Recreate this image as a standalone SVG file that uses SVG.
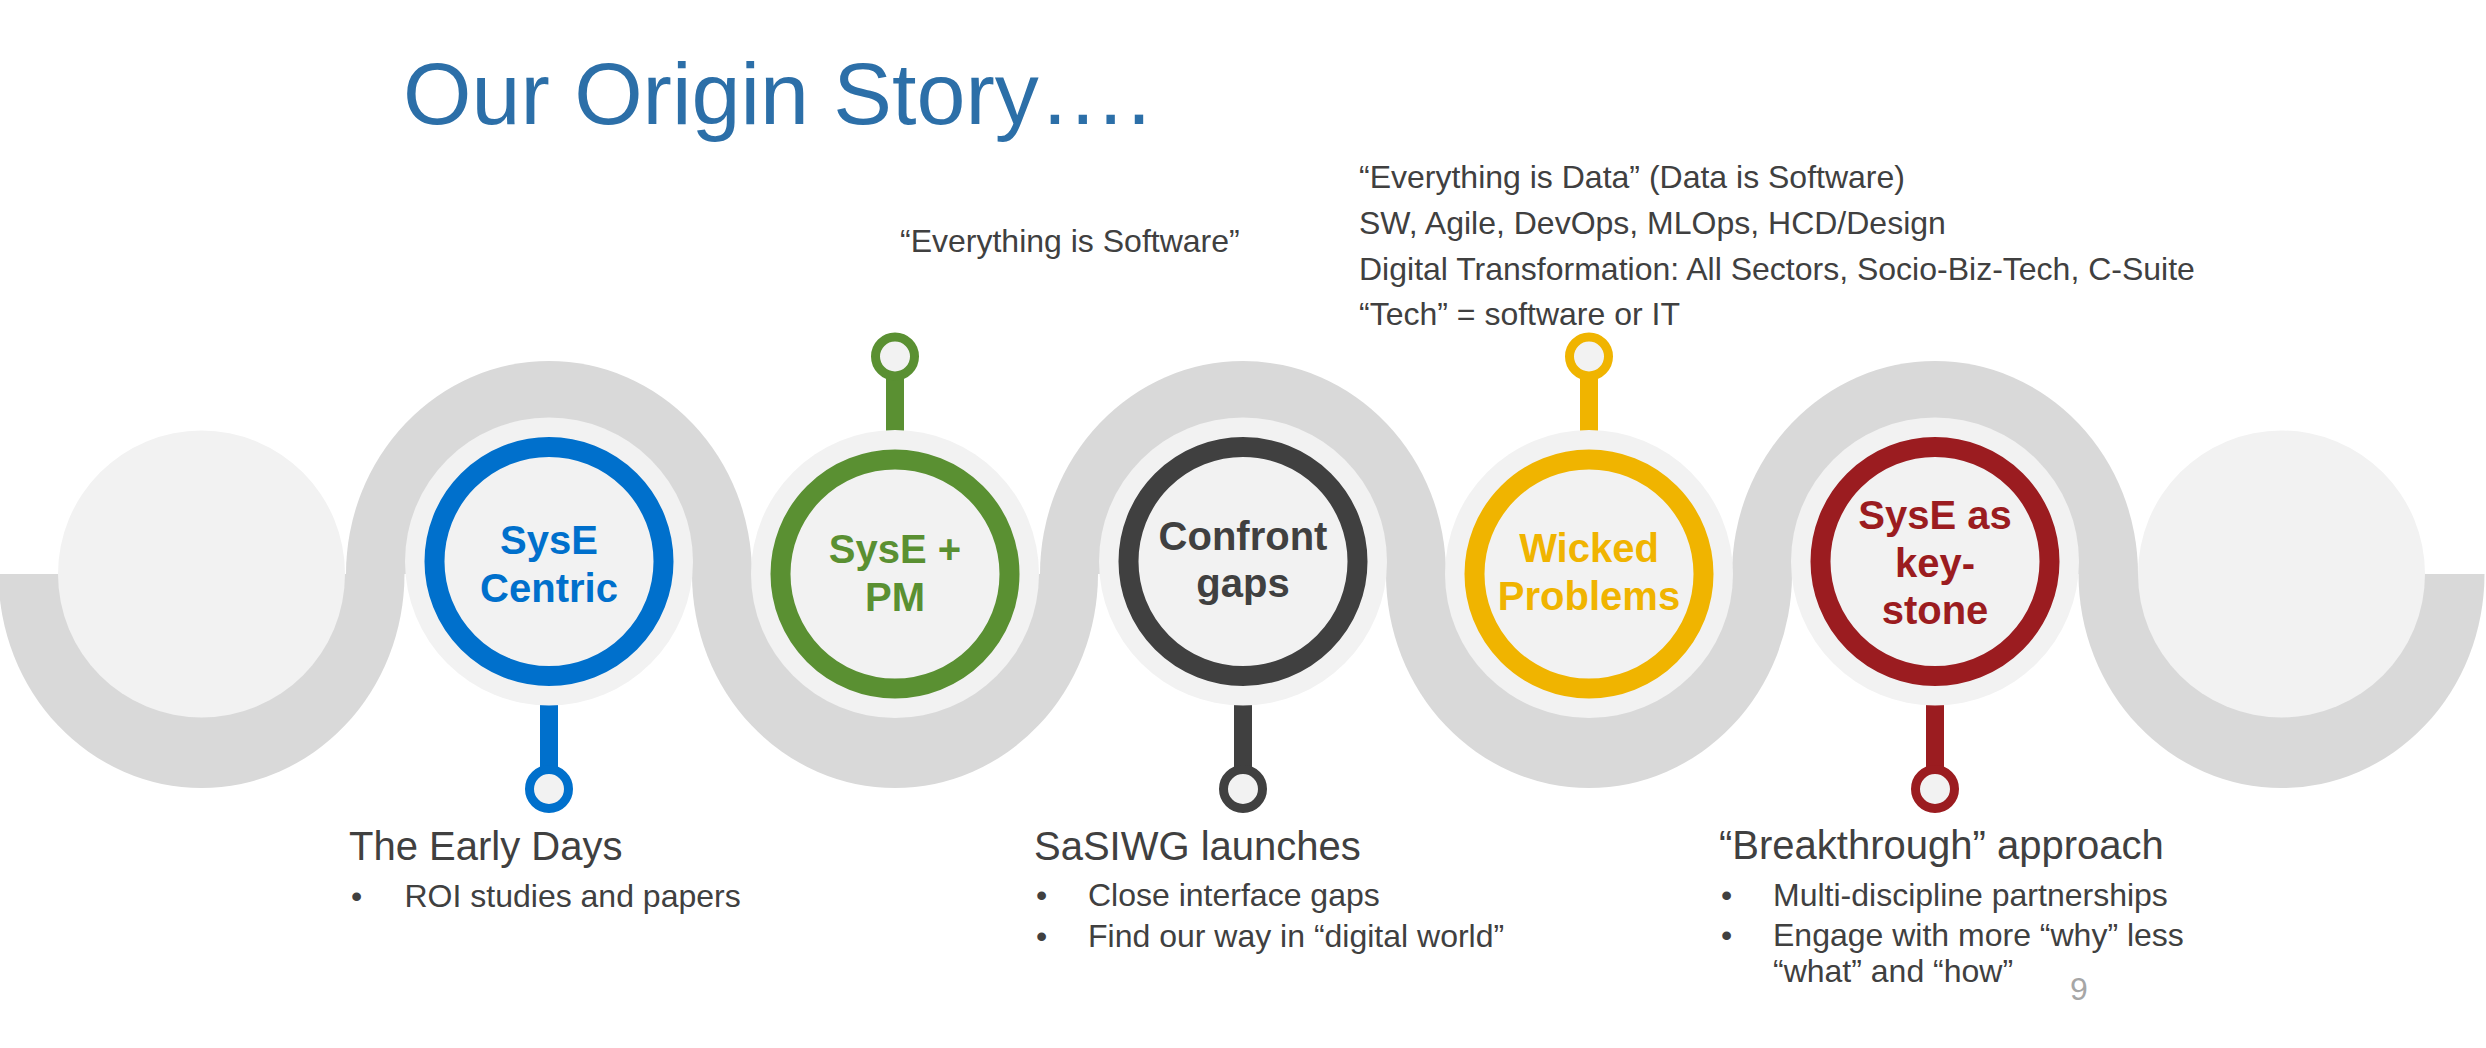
<svg xmlns="http://www.w3.org/2000/svg" width="2486" height="1048" viewBox="0 0 2486 1048">
  <style>
    .band { fill: #D9D9D9; }
    .halo { fill: #F2F2F2; }
    .ring { fill: none; stroke-width: 20; }
    .stem { stroke-width: 18; }
    .pin { stroke-width: 9; }
    .ntext { font-family: "Liberation Sans", Arial, sans-serif; font-weight: bold; font-size: 40px; text-anchor: middle; }
    .body { font-family: "Liberation Sans", Arial, sans-serif; fill: #404040; font-size: 32px; }
    .head { font-family: "Liberation Sans", Arial, sans-serif; fill: #404040; font-size: 40px; }
    .title { font-family: "Liberation Sans", Arial, sans-serif; fill: #2C6FA8; font-size: 88px; }
    .blue { stroke: #0070CC; }
    .green { stroke: #5A9032; }
    .dark { stroke: #404040; }
    .yellow { stroke: #F0B400; }
    .red { stroke: #9B1C20; }
    .pin.blue, .pin.green, .pin.dark, .pin.yellow, .pin.red { fill: #F2F2F2; }
    .ring.blue, .ring.green, .ring.dark, .ring.yellow, .ring.red { fill: none; }
    text.blue { fill: #0070CC; stroke: none; }
    text.green { fill: #5A9032; stroke: none; }
    text.dark { fill: #404040; stroke: none; }
    text.yellow { fill: #F0B400; stroke: none; }
    text.red { fill: #9B1C20; stroke: none; }
  </style>
  <rect width="2486" height="1048" fill="#FFFFFF"/>

  <g id="ribbon">
    <path class="band" d="M-1.5,574 A203,214 0 0 0 404.5,574 Z"/>
    <path class="band" d="M346,574 A203,213 0 0 1 752,574 Z"/>
    <path class="band" d="M692,574 A203,214 0 0 0 1098,574 Z"/>
    <path class="band" d="M1040,574 A203,213 0 0 1 1446,574 Z"/>
    <path class="band" d="M1386,574 A203,214 0 0 0 1792,574 Z"/>
    <path class="band" d="M1732,574 A203,213 0 0 1 2138,574 Z"/>
    <path class="band" d="M2078.5,574 A203,214 0 0 0 2484.5,574 Z"/>
    <circle class="halo" cx="201.5" cy="574" r="143.5"/>
    <circle class="halo" cx="2281.5" cy="574" r="143.5"/>
  </g>

  <g id="connectors">
    <line class="stem blue" x1="549" y1="660" x2="549" y2="789"/>
    <line class="stem green" x1="895" y1="470" x2="895" y2="356.5"/>
    <line class="stem dark" x1="1243" y1="660" x2="1243" y2="789"/>
    <line class="stem yellow" x1="1589" y1="470" x2="1589" y2="356.5"/>
    <line class="stem red" x1="1935" y1="660" x2="1935" y2="789"/>
  </g>

  <g id="node-syse-centric">
    <circle class="halo" cx="549" cy="561.5" r="144"/>
    <circle class="ring blue" cx="549" cy="561.5" r="114.5"/>
    <circle class="pin blue" cx="549" cy="789" r="19.5"/>
    <text class="ntext blue" x="549" y="554">SysE</text>
    <text class="ntext blue" x="549" y="602">Centric</text>
  </g>

  <g id="node-syse-pm">
    <circle class="halo" cx="895" cy="574" r="144"/>
    <circle class="ring green" cx="895" cy="574" r="114.5"/>
    <circle class="pin green" cx="895" cy="356.5" r="19.5"/>
    <text class="ntext green" x="895" y="563">SysE +</text>
    <text class="ntext green" x="895" y="611">PM</text>
  </g>

  <g id="node-confront-gaps">
    <circle class="halo" cx="1243" cy="561.5" r="144"/>
    <circle class="ring dark" cx="1243" cy="561.5" r="114.5"/>
    <circle class="pin dark" cx="1243" cy="789" r="19.5"/>
    <text class="ntext dark" x="1243" y="550">Confront</text>
    <text class="ntext dark" x="1243" y="597">gaps</text>
  </g>

  <g id="node-wicked-problems">
    <circle class="halo" cx="1589" cy="574" r="144"/>
    <circle class="ring yellow" cx="1589" cy="574" r="114.5"/>
    <circle class="pin yellow" cx="1589" cy="356.5" r="19.5"/>
    <text class="ntext yellow" x="1589" y="562">Wicked</text>
    <text class="ntext yellow" x="1589" y="610">Problems</text>
  </g>

  <g id="node-syse-keystone">
    <circle class="halo" cx="1935" cy="561.5" r="144"/>
    <circle class="ring red" cx="1935" cy="561.5" r="114.5"/>
    <circle class="pin red" cx="1935" cy="789" r="19.5"/>
    <text class="ntext red" x="1935" y="529">SysE as</text>
    <text class="ntext red" x="1935" y="577">key-</text>
    <text class="ntext red" x="1935" y="624">stone</text>
  </g>

  <g id="title">
    <text class="title" x="403" y="124">Our Origin Story….</text>
  </g>

  <g id="top-notes">
    <text class="body" x="900" y="252">“Everything is Software”</text>
    <text class="body" x="1359" y="188">“Everything is Data” (Data is Software)</text>
    <text class="body" x="1359" y="234">SW, Agile, DevOps, MLOps, HCD/Design</text>
    <text class="body" x="1359" y="280">Digital Transformation: All Sectors, Socio-Biz-Tech, C-Suite</text>
    <text class="body" x="1359" y="325">“Tech” = software or IT</text>
  </g>

  <g id="early-days">
    <text class="head" x="349" y="860">The Early Days</text>
    <text class="body" x="351" y="907">•</text>
    <text class="body" x="404.5" y="907">ROI studies and papers</text>
  </g>

  <g id="sasiwg">
    <text class="head" x="1034" y="860">SaSIWG launches</text>
    <text class="body" x="1036" y="906">•</text>
    <text class="body" x="1088" y="906">Close interface gaps</text>
    <text class="body" x="1036" y="947">•</text>
    <text class="body" x="1088" y="947">Find our way in “digital world”</text>
  </g>

  <g id="breakthrough">
    <text class="head" x="1719" y="859">“Breakthrough” approach</text>
    <text class="body" x="1721" y="906">•</text>
    <text class="body" x="1773" y="906">Multi-discipline partnerships</text>
    <text class="body" x="1721" y="946">•</text>
    <text class="body" x="1773" y="946">Engage with more “why” less</text>
    <text class="body" x="1773" y="982">“what” and “how”</text>
  </g>

  <text x="2070" y="1000" font-family="Liberation Sans, Arial, sans-serif" font-size="32" fill="#A6A6A6">9</text>
</svg>
